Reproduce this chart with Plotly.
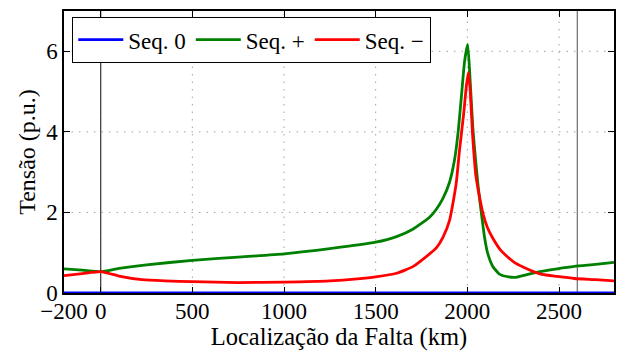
import plotly.graph_objects as go

# Positive-sequence voltage (p.u.) versus fault location (km)
pos_km = [-200, -100, 0, 100, 250, 500, 750, 1000, 1250, 1500, 1614, 1705, 1794, 1831,
          1867, 1903, 1930, 1950, 1970, 1985, 2002, 2015, 2030, 2045, 2060, 2076,
          2094, 2112, 2139, 2175, 2225, 2265, 2320, 2382, 2490, 2584, 2700, 2800]
seq_pos = [0.60, 0.57, 0.53, 0.61, 0.70, 0.81, 0.89, 0.97, 1.10, 1.26, 1.40, 1.59, 1.88, 2.08,
           2.35, 2.75, 3.30, 4.00, 5.00, 5.75, 6.17, 5.30, 4.10, 3.30, 2.60, 2.00,
           1.38, 0.97, 0.66, 0.47, 0.40, 0.39, 0.45, 0.52, 0.60, 0.66, 0.71, 0.76]

# Negative-sequence voltage (p.u.) versus fault location (km)
neg_km = [-200, -100, 0, 100, 225, 350, 500, 750, 1000, 1250, 1400, 1500, 1614, 1705, 1794,
          1831, 1867, 1903, 1939, 1957, 1980, 1995, 2006, 2016, 2029, 2047, 2068,
          2085, 2110, 2139, 2184, 2256, 2346, 2408, 2490, 2584, 2700, 2800]
seq_neg = [0.43, 0.48, 0.53, 0.42, 0.33, 0.30, 0.28, 0.26, 0.27, 0.30, 0.35, 0.40, 0.49, 0.66, 0.97,
           1.12, 1.38, 1.80, 2.71, 3.53, 4.45, 5.15, 5.48, 5.00, 3.90, 2.90, 2.35,
           1.98, 1.62, 1.36, 1.05, 0.76, 0.56, 0.46, 0.41, 0.36, 0.33, 0.30]

# Zero-sequence voltage (p.u.) stays at zero along the whole line
zero_km = [-200, 2800]
seq_zero = [0.0, 0.0]

# Line terminals marked on the plot
terminals_km = [0, 2600]

x_ticks = [-200, 0, 500, 1000, 1500, 2000, 2500]
x_tick_text = ["\u2212200", "0", "500", "1000", "1500", "2000", "2500"]
y_ticks = [0, 2, 4, 6]

SERIF = "Liberation Serif"


def serif(size):
    return dict(family=SERIF, size=size, color="black")


fig = go.Figure()

series = [
    ("Seq. 0", zero_km, seq_zero, "#0000ff"),
    ("Seq. +", pos_km, seq_pos, "#008000"),
    ("Seq. \u2212", neg_km, seq_neg, "#ff0000"),
]
for name, xs, values, color in series:
    fig.add_trace(go.Scatter(
        x=xs, y=values, name=name, mode="lines",
        line=dict(color=color, width=2.8, shape="spline", smoothing=0.5),
    ))

# dotted grid drawn as shapes so it sits under the data
grid_line = dict(color="#a0a0a0", width=1, dash="1.5px,6px")
for xv in x_ticks[1:]:
    fig.add_shape(type="line", xref="x", yref="paper", x0=xv, x1=xv, y0=0, y1=1,
                  line=grid_line, layer="below")
for yv in y_ticks[1:]:
    fig.add_shape(type="line", xref="paper", yref="y", x0=0, x1=1, y0=yv, y1=yv,
                  line=grid_line, layer="below")

for xv, col in zip(terminals_km, ["#444444", "#777777"]):
    fig.add_shape(type="line", xref="x", yref="paper", x0=xv, x1=xv, y0=0, y1=1,
                  line=dict(color=col, width=1.3), layer="below")

frame = dict(showgrid=False, zeroline=False, showline=True, linecolor="black", linewidth=1.5,
             mirror="allticks", ticks="inside", ticklen=6, tickcolor="black", tickwidth=1.2,
             tickfont=serif(23))

fig.update_xaxes(
    range=[-200, 2800], tickvals=x_ticks, ticktext=x_tick_text, ticklabelstandoff=-3,
    title_text="Localização da Falta (km)", title_font=serif(24.5), title_standoff=0,
    **frame,
)
fig.update_yaxes(
    range=[0, 7], tickvals=y_ticks,
    title_text="Tensão (p.u.)", title_font=serif(24), title_standoff=4,
    **frame,
)

fig.update_layout(
    width=622, height=351,
    margin=dict(l=64, r=6, t=11, b=58),
    paper_bgcolor="white", plot_bgcolor="white",
    font=serif(23),
    legend=dict(
        orientation="h", x=0.0145, y=0.979, xanchor="left", yanchor="top",
        bgcolor="white", bordercolor="black", borderwidth=1.3,
        font=serif(23), itemwidth=45, tracegroupgap=0,
    ),
    showlegend=True,
)

fig.write_html("out.html")
